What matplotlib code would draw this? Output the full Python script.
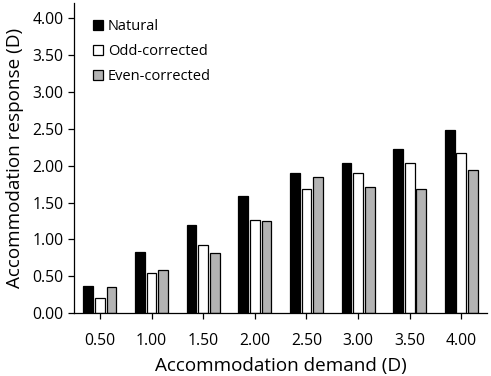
import matplotlib
matplotlib.use("Agg")
import matplotlib.pyplot as plt
import numpy as np

plt.rcParams['font.family'] = ['Open Sans', 'DejaVu Sans']

categories = ["0.50", "1.00", "1.50", "2.00", "2.50", "3.00", "3.50", "4.00"]
natural = [0.37, 0.83, 1.19, 1.59, 1.90, 2.03, 2.22, 2.48]
odd_corrected = [0.20, 0.55, 0.92, 1.27, 1.68, 1.90, 2.03, 2.17]
even_corrected = [0.36, 0.59, 0.81, 1.25, 1.84, 1.71, 1.69, 1.94]
yticks = [0.0, 0.5, 1.0, 1.5, 2.0, 2.5, 3.0, 3.5, 4.0]

fig = plt.figure(figsize=(4.91, 3.76), dpi=100)
ax = fig.add_axes([0.151, 0.167, 0.841, 0.824])

x = np.arange(len(categories))
w = 0.19
step = 0.225
ax.bar(x - step, natural, w, color='black', edgecolor='black', linewidth=0.9, label='Natural')
ax.bar(x, odd_corrected, w, color='white', edgecolor='black', linewidth=0.9, label='Odd-corrected')
ax.bar(x + step, even_corrected, w, color='#b3b3b3', edgecolor='black', linewidth=0.9, label='Even-corrected')

ax.set_xlim(-0.5, 7.5)
ax.set_ylim(0, 4.2)
ax.set_xticks(x)
ax.set_xticklabels(categories)
ax.set_yticks(yticks)
ax.set_yticklabels([f"{v:.2f}" for v in yticks])
ax.tick_params(axis='both', direction='out', length=4, width=0.9, labelsize=11.3, colors='black')
ax.tick_params(axis='x', pad=10)
for s in ['top', 'right']:
    ax.spines[s].set_visible(False)
for s in ['left', 'bottom']:
    ax.spines[s].set_linewidth(0.9)

ax.set_xlabel('Accommodation demand (D)', fontsize=13.6, labelpad=6)
ax.set_ylabel('Accommodation response (D)', fontsize=13.6, labelpad=6)

ax.legend(loc='upper left', bbox_to_anchor=(0.046, 0.948), frameon=False, fontsize=10.5,
          handlelength=0.7, handleheight=0.7, handletextpad=0.3, labelspacing=0.68,
          borderpad=0, borderaxespad=0)

fig.savefig('out.png', dpi=100)
